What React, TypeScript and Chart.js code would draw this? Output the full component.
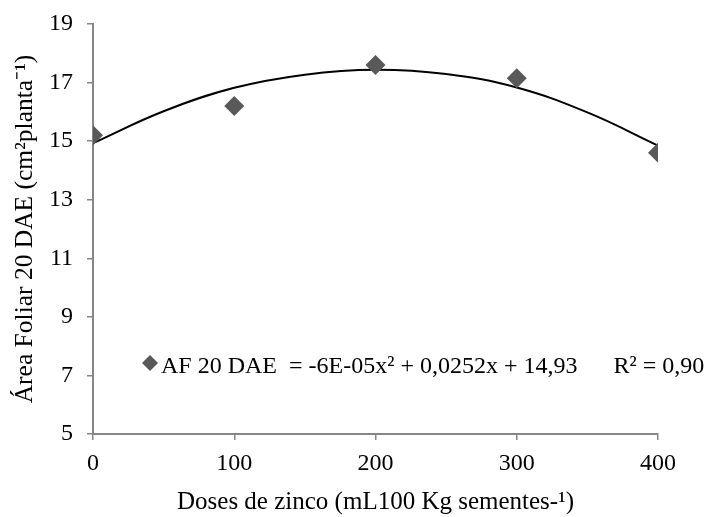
import React, { useEffect, useRef } from "react";
import { Chart, registerables } from "chart.js";

Chart.register(...registerables);

const doses = [0, 100, 200, 300, 400];
const areaFoliar = [15.2, 16.2, 17.6, 17.15, 14.6];

// trend line
const trendX = [0, 50, 100, 150, 200, 250, 300, 350, 400];
const trendY = [14.93, 16.02, 16.82, 17.27, 17.44, 17.29, 16.83, 15.98, 14.85];

const legendText = "AF 20 DAE  = -6E-05x² + 0,0252x + 14,93      R² = 0,90";
const yTitle = "Área Foliar 20 DAE (cm²planta⁻¹)";
const xTitle = "Doses de zinco (mL100 Kg sementes-¹)";

const FONT = "'Liberation Serif', 'Times New Roman', serif";
const AXIS = "#868686";
const MARK = "#595959";

export default function App() {
  const ref = useRef<HTMLCanvasElement | null>(null);
  useEffect(() => {
    if (!ref.current) return;
    const legendPlugin = {
      id: "eqLegend",
      afterDraw(chart: any) {
        const { ctx, chartArea } = chart;
        ctx.save();
        const cx = chartArea.left + 57;
        const cy = chartArea.top + 339;
        const r = 8;
        ctx.fillStyle = MARK;
        ctx.beginPath();
        ctx.moveTo(cx, cy - r);
        ctx.lineTo(cx + r, cy);
        ctx.lineTo(cx, cy + r);
        ctx.lineTo(cx - r, cy);
        ctx.closePath();
        ctx.fill();
        ctx.fillStyle = "#000";
        ctx.font = `24px ${FONT}`;
        ctx.textBaseline = "alphabetic";
        ctx.textAlign = "left";
        ctx.fillText(legendText, chartArea.left + 68, chartArea.top + 349);
        ctx.restore();
      },
    };
    const chart = new Chart(ref.current, {
      type: "scatter",
      data: {
        datasets: [
          {
            label: "trend",
            data: trendX.map((x, i) => ({ x, y: trendY[i] })),
            showLine: true,
            borderColor: "#000",
            borderWidth: 2,
            pointRadius: 0,
            tension: 0.4,
            order: 2,
          },
          {
            label: "AF 20 DAE",
            data: doses.map((x, i) => ({ x, y: areaFoliar[i] })),
            showLine: false,
            pointStyle: "rectRot",
            pointRadius: 10,
            backgroundColor: MARK,
            borderColor: MARK,
            borderWidth: 0,
            order: 1,
          },
        ],
      },
      options: {
        animation: false,
        responsive: false,
        layout: { padding: { top: 24, right: 55, bottom: 0, left: 0 } },
        plugins: { legend: { display: false }, tooltip: { enabled: false } },
        scales: {
          x: {
            type: "linear",
            min: 0,
            max: 400,
            ticks: { stepSize: 100, color: "#000", font: { family: FONT, size: 24 }, padding: 9 },
            grid: { drawOnChartArea: false, tickLength: 6, color: AXIS, lineWidth: 1.5 },
            border: { display: true, color: AXIS, width: 2 },
            title: {
              display: true,
              text: xTitle,
              color: "#000",
              font: { family: FONT, size: 25 },
              padding: { top: 0, bottom: 0 },
            },
            afterFit(scale: any) {
              scale.height = 83;
              scale.paddingLeft = 0;
              scale.paddingRight = 0;
            },
          },
          y: {
            min: 5,
            max: 19,
            ticks: { stepSize: 2, color: "#000", font: { family: FONT, size: 24 }, padding: 14 },
            grid: { drawOnChartArea: false, tickLength: 6, color: AXIS, lineWidth: 1.5 },
            border: { display: true, color: AXIS, width: 2 },
            title: {
              display: true,
              text: yTitle,
              color: "#000",
              font: { family: FONT, size: 25.5 },
              padding: { top: 10, bottom: 10 },
            },
            afterFit(scale: any) {
              scale.width = 93;
              scale.paddingTop = 0;
              scale.paddingBottom = 0;
            },
          },
        },
      },
      plugins: [legendPlugin],
    } as any);
    return () => chart.destroy();
  }, []);
  return (
    <div style={{ position: "fixed", left: 0, top: 0, width: 713, height: 517, background: "#fff" }}>
      <canvas ref={ref} width={713} height={517} style={{ width: 713, height: 517 }} />
    </div>
  );
}
